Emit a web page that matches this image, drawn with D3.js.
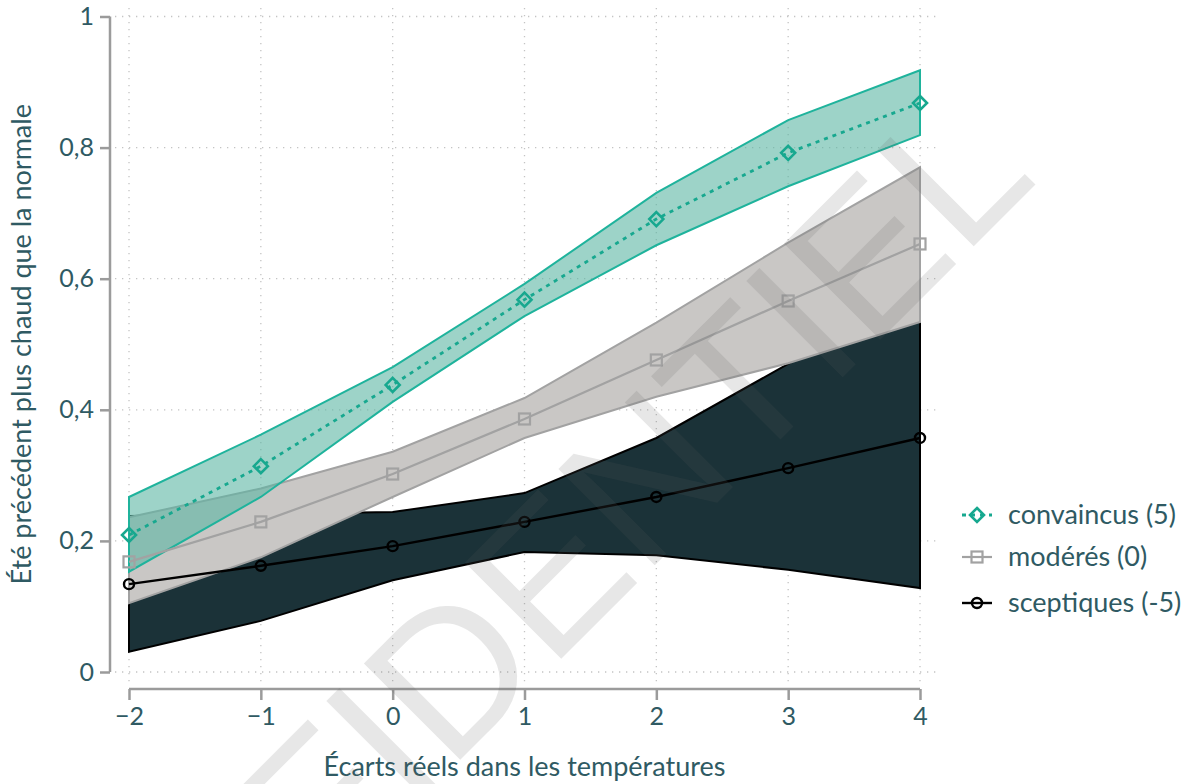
<!DOCTYPE html>
<html><head><meta charset="utf-8">
<script src="https://cdn.jsdelivr.net/npm/d3@7"></script>
<style>
body{margin:0;background:#fff;}
svg{display:block;font-family:Lato,"Open Sans",sans-serif;}
</style></head>
<body><svg id="c" width="1196" height="784"></svg>
<script>
const xValues = [-2,-1,0,1,2,3,4];
const yTicks = [0,0.2,0.4,0.6,0.8,1];
const yTickLabels = ["0","0,2","0,4","0,6","0,8","1"];
const xTickLabels = ["−2","−1","0","1","2","3","4"];
const seriesNames = ["convaincus (5)","modérés (0)","sceptiques (-5)"];
const convaincus     = [0.209,0.314,0.438,0.568,0.691,0.792,0.868];
const convaincusHigh = [0.267,0.362,0.465,0.592,0.731,0.842,0.918];
const convaincusLow  = [0.153,0.267,0.412,0.543,0.651,0.741,0.819];
const moderes     = [0.168,0.229,0.302,0.386,0.476,0.566,0.653];
const moderesHigh = [0.236,0.280,0.336,0.418,0.533,0.655,0.770];
const moderesLow  = [0.105,0.175,0.267,0.357,0.420,0.471,0.534];
const sceptiques     = [0.134,0.162,0.192,0.229,0.267,0.311,0.357];
const sceptiquesHigh = [0.238,0.241,0.244,0.273,0.357,0.470,0.590];
const sceptiquesLow  = [0.031,0.078,0.140,0.183,0.178,0.156,0.128];
const xTitle = "Écarts réels dans les températures";
const yTitle = "Été précédent plus chaud que la normale";
const watermark = "CONFIDENTIEL";

const svg = d3.select("#c");
const textCol = "#2f5a63";
const x = d3.scaleLinear().domain([-2,4]).range([129,920]);
const y = d3.scaleLinear().domain([0,1]).range([672,16.5]);

// grid
const grid = svg.append("g");
grid.selectAll("line.h").data(yTicks).join("line")
  .attr("x1",115).attr("x2",940).attr("y1",d=>y(d)).attr("y2",d=>y(d))
  .attr("stroke","#c4c4c4").attr("stroke-width",1.3).attr("stroke-dasharray","1.3,5.7");
grid.selectAll("line.v").data(xValues).join("line")
  .attr("y1",8).attr("y2",684).attr("x1",d=>x(d)).attr("x2",d=>x(d))
  .attr("stroke","#c4c4c4").attr("stroke-width",1.3).attr("stroke-dasharray","1.3,5.7");

// axes
const yAxis = svg.append("g").attr("transform","translate(110,0)")
  .call(d3.axisLeft(y).tickValues(yTicks).tickSize(10).tickPadding(6).tickFormat((d,i)=>yTickLabels[i]));
const xAxis = svg.append("g").attr("transform","translate(0,689)")
  .call(d3.axisBottom(x).tickValues(xValues).tickSize(11).tickPadding(7).tickFormat((d,i)=>xTickLabels[i]));
[yAxis,xAxis].forEach(a=>{
  a.select(".domain").attr("stroke","#9b9b9b").attr("stroke-width",2.5).attr("d", a===yAxis ? `M0,${y(1)}V${y(0)}` : `M${x(-2)},0H${x(4)}`);
  a.selectAll(".tick line").attr("stroke","#9b9b9b").attr("stroke-width",2.5);
  a.selectAll(".tick text").attr("fill",textCol).attr("font-size",25).attr("font-family","Lato");
});

// bands
const area = (lo,hi)=> d3.area().x((d,i)=>x(xValues[i])).y0((d,i)=>y(lo[i])).y1((d,i)=>y(hi[i]))(xValues);
svg.append("path").attr("d",area(sceptiquesLow,sceptiquesHigh)).attr("fill","#1b3238").attr("stroke","#000").attr("stroke-width",2);
svg.append("path").attr("d",area(moderesLow,moderesHigh)).attr("fill","#c9c7c5").attr("stroke","#a2a2a2").attr("stroke-width",2);
svg.append("path").attr("d",area(convaincusLow,convaincusHigh)).attr("fill","rgb(92,182,163)").attr("fill-opacity",0.6).attr("stroke","#1fb39c").attr("stroke-width",2);

// lines
const line = d3.line().x((d,i)=>x(xValues[i])).y(d=>y(d));
svg.append("path").attr("d",line(moderes)).attr("fill","none").attr("stroke","#a2a2a2").attr("stroke-width",2.2);
svg.append("path").attr("d",line(sceptiques)).attr("fill","none").attr("stroke","#000").attr("stroke-width",2.4);
svg.append("path").attr("d",line(convaincus)).attr("fill","none").attr("stroke","#17a88f").attr("stroke-width",2.8).attr("stroke-dasharray","4,5");

const diamond = (g,cx,cy)=> g.append("path").attr("d",`M${cx},${cy-7}L${cx+7},${cy}L${cx},${cy+7}L${cx-7},${cy}Z`).attr("fill","none").attr("stroke","#17a88f").attr("stroke-width",2.6);
const square = (g,cx,cy)=> g.append("rect").attr("x",cx-5.5).attr("y",cy-5.5).attr("width",11).attr("height",11).attr("fill","none").attr("stroke","#a2a2a2").attr("stroke-width",2.2);
const circle = (g,cx,cy)=> g.append("circle").attr("cx",cx).attr("cy",cy).attr("r",5).attr("fill","none").attr("stroke","#000").attr("stroke-width",2.4);
const mk = svg.append("g");
moderes.forEach((d,i)=>square(mk,x(xValues[i]),y(d)));
sceptiques.forEach((d,i)=>circle(mk,x(xValues[i]),y(d)));
convaincus.forEach((d,i)=>diamond(mk,x(xValues[i]),y(d)));

// titles
svg.append("text").attr("x",(x(-2)+x(4))/2).attr("y",776).attr("text-anchor","middle")
  .attr("fill",textCol).attr("font-size",27).text(xTitle);
svg.append("text").attr("transform",`translate(31,${(y(0)+y(1))/2}) rotate(-90)`).attr("text-anchor","middle")
  .attr("fill",textCol).attr("font-size",27).text(yTitle);

// legend
const lg = svg.append("g");
const ly = [515,557,603];
const lx0 = 962, lx1 = 992, lxm = 977;
lg.append("line").attr("x1",lx0).attr("x2",lx1).attr("y1",ly[0]).attr("y2",ly[0]).attr("stroke","#17a88f").attr("stroke-width",2.8).attr("stroke-dasharray","4,5");
diamond(lg,lxm,ly[0]);
lg.append("line").attr("x1",lx0).attr("x2",lx1).attr("y1",ly[1]).attr("y2",ly[1]).attr("stroke","#a2a2a2").attr("stroke-width",2.2);
square(lg,lxm,ly[1]);
lg.append("line").attr("x1",lx0).attr("x2",lx1).attr("y1",ly[2]).attr("y2",ly[2]).attr("stroke","#000").attr("stroke-width",2.4);
circle(lg,lxm,ly[2]);
seriesNames.forEach((n,i)=>lg.append("text").attr("x",1008).attr("y",ly[i]+9).attr("fill",textCol).attr("font-size",27).text(n));

// watermark
svg.append("text").attr("transform","translate(1040,180) rotate(-45)").attr("text-anchor","end")
  .attr("font-family","Liberation Sans").attr("font-size",198).attr("fill","rgb(96,96,96)").attr("fill-opacity",0.15)
  .text(watermark);
</script></body></html>
